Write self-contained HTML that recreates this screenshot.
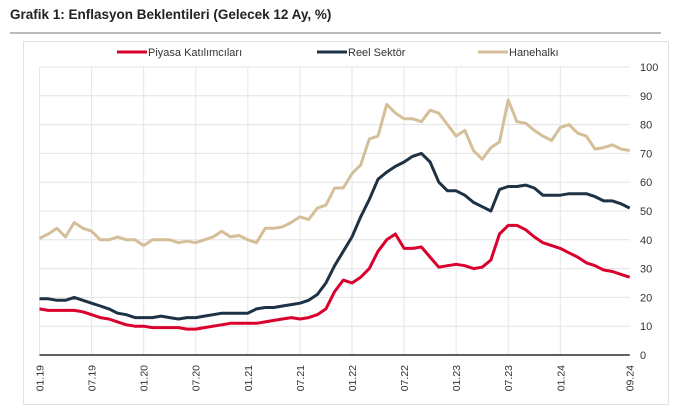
<!DOCTYPE html>
<html><head><meta charset="utf-8"><style>
body{margin:0;background:#fff;width:675px;height:411px;overflow:hidden;font-family:"Liberation Sans",sans-serif}
</style></head><body>
<svg id="s" width="675" height="411" xmlns="http://www.w3.org/2000/svg" font-family="Liberation Sans, sans-serif">
<text x="10" y="19" font-size="13.5" font-weight="bold" fill="#222">Grafik 1: Enflasyon Beklentileri (Gelecek 12 Ay, %)</text>
<line x1="10" y1="33" x2="661" y2="33" stroke="#777" stroke-width="1"/>
<rect x="23.5" y="41.5" width="645" height="363" fill="none" stroke="#e2e2e2"/>
<line x1="117" y1="52" x2="147" y2="52" stroke="#d9002e" stroke-width="3"/>
<text x="148" y="56" font-size="11" fill="#333">Piyasa Katılımcıları</text>
<line x1="317" y1="52" x2="347" y2="52" stroke="#1e3246" stroke-width="3"/>
<text x="348" y="56" font-size="11" fill="#333">Reel Sektör</text>
<line x1="478" y1="52" x2="508" y2="52" stroke="#d4bf98" stroke-width="3"/>
<text x="509" y="56" font-size="11" fill="#333">Hanehalkı</text>
<g id="g"></g>
</svg>
<script>
var g=document.getElementById('g'),ns='http://www.w3.org/2000/svg';
var X0=39.5,DX=8.68,Y0=355,K=2.88;
function el(t,a,txt){var e=document.createElementNS(ns,t);for(var k in a)e.setAttribute(k,a[k]);if(txt)e.textContent=txt;g.appendChild(e);return e;}
for(var v=10;v<=100;v+=10){var y=Y0-v*K;el('line',{x1:X0,y1:y,x2:X0+68*DX,y2:y,stroke:'#e3e3e3','stroke-width':1});}
for(var v=0;v<=100;v+=10){el('text',{x:640,y:Y0-v*K+4,'font-size':11,fill:'#333'},String(v));}
var labs=['01.19','07.19','01.20','07.20','01.21','07.21','01.22','07.22','01.23','07.23','01.24','09.24'];
for(var i=0;i<12;i++){var m=i<11?i*6:68;var x=X0+m*DX;
if(i<11)el('line',{x1:x,y1:Y0-100*K,x2:x,y2:Y0,stroke:'#e6e6e6','stroke-width':1});
el('text',{x:0,y:0,'font-size':10.5,fill:'#333','text-anchor':'end',transform:'translate('+(x+4)+','+(Y0+10)+') rotate(-90)'},labs[i]);}
el('line',{x1:X0,y1:Y0,x2:X0+68*DX,y2:Y0,stroke:'#000','stroke-width':1.3});
var tan=[40.5,42,44,41,46,44,43,40,40,41,40,40,38,40,40,40,39,39.5,39,40,41,43,41,41.5,40,39,44,44,44.5,46,48,47,51,52,58,58,63,66,75,76,87,84,82,82,81,85,84,80,76,78,71,68,72,74,88.5,81,80.5,78,76,74.5,79,80,77,76,71.5,72,73,71.5,71];
var navy=[19.5,19.5,19,19,20,19,18,17,16,14.5,14,13,13,13,13.5,13,12.5,13,13,13.5,14,14.5,14.5,14.5,14.5,16,16.5,16.5,17,17.5,18,19,21,25,31,36,41,48,54,61,63.5,65.5,67,69,70,67,60,57,57,55.5,53,51.5,50,57.5,58.5,58.5,59,58,55.5,55.5,55.5,56,56,56,55,53.5,53.5,52.5,51];
var red=[16,15.5,15.5,15.5,15.5,15,14,13,12.5,11.5,10.5,10,10,9.5,9.5,9.5,9.5,9,9,9.5,10,10.5,11,11,11,11,11.5,12,12.5,13,12.5,13,14,16,22,26,25,27,30,36,40,42,37,37,37.5,34,30.5,31,31.5,31,30,30.5,33,42,45,45,43.5,41,39,38,37,35.5,34,32,31,29.5,29,28,27];
function fix(a){while(a.length>69)a.pop();while(a.length<69)a.push(a[a.length-1]);return a;}
fix(tan);fix(navy);fix(red);
function line(a,c){var p=a.map(function(v,i){return (X0+i*DX).toFixed(1)+','+(Y0-v*K).toFixed(1)}).join(' ');
el('polyline',{points:p,fill:'none',stroke:c,'stroke-width':3,'stroke-linejoin':'round'});}
line(tan,'#d4bf98');line(navy,'#1e3246');line(red,'#d9002e');
</script>
</body></html>
